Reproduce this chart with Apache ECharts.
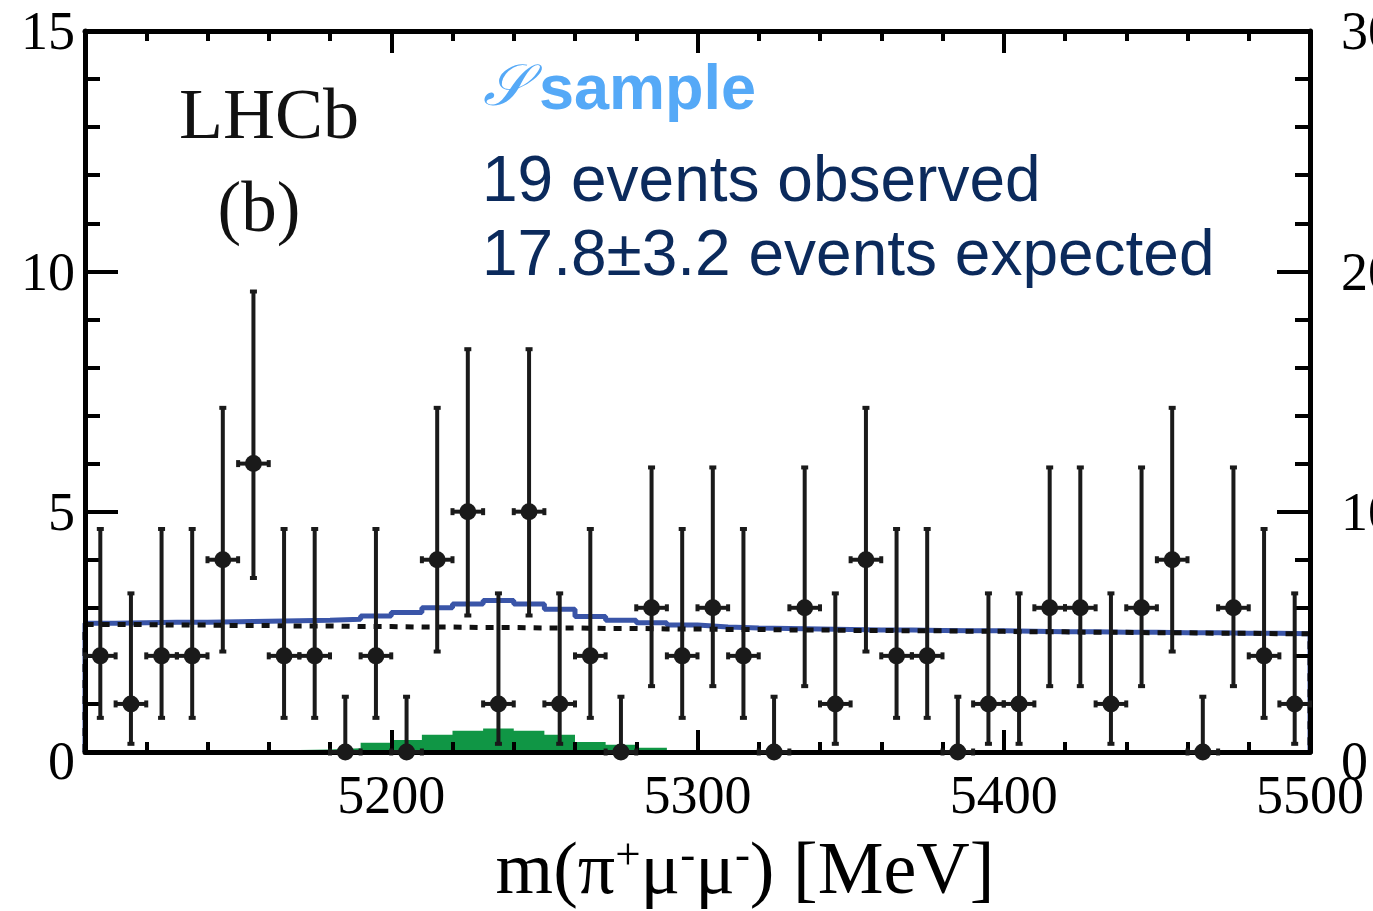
<!DOCTYPE html>
<html><head><meta charset="utf-8">
<script src="https://cdn.jsdelivr.net/npm/echarts@6/dist/echarts.min.js"></script>
<style>html,body{margin:0;padding:0;background:#fff}#c{width:1373px;height:911px}</style>
</head><body><div id="c"></div>
<script>
// ---- data ----
const binLow = [5100,5110,5120,5130,5140,5150,5160,5170,5180,5190,
                5200,5210,5220,5230,5240,5250,5260,5270,5280,5290,
                5300,5310,5320,5330,5340,5350,5360,5370,5380,5390,
                5400,5410,5420,5430,5440,5450,5460,5470,5480,5490];
const binWidth = 10;
const counts = [2,1,2,2,4,6,2,2,0,2, 0,4,5,1,5,1,2,0,3,2,
                3,2,0,3,1,4,2,2,0,1, 1,3,3,1,3,4,0,3,2,1];
// Poisson interval bounds indexed by observed count
const poissonLow  = [0, 0.17, 0.71, 1.37, 2.09, 2.84, 3.62];
const poissonHigh = [1.15, 3.30, 4.64, 5.92, 7.16, 8.38, 9.58];
const totalFit = [2.68,2.69,2.70,2.70,2.71,2.72,2.73,2.74,2.76,2.83,
                  2.90,3.00,3.08,3.15,3.08,2.97,2.82,2.74,2.69,2.64,
                  2.60,2.58,2.57,2.56,2.55,2.54,2.54,2.53,2.52,2.52,
                  2.51,2.50,2.50,2.49,2.49,2.48,2.48,2.47,2.47,2.46];
const background = [2.65,2.65,2.64,2.64,2.63,2.63,2.62,2.62,2.61,2.61,
                    2.60,2.60,2.59,2.59,2.58,2.58,2.57,2.57,2.56,2.56,
                    2.55,2.55,2.54,2.54,2.53,2.53,2.52,2.52,2.51,2.51,
                    2.50,2.50,2.49,2.49,2.48,2.48,2.47,2.47,2.46,2.46];
const signal = [0,0,0,0.01,0.02,0.03,0.04,0.05,0.08,0.19,
                0.25,0.36,0.44,0.49,0.44,0.36,0.21,0.15,0.09,0.04,
                0.02,0.01,0,0,0,0,0,0,0,0,
                0,0,0,0,0,0,0,0,0,0];
const xRange = [5100, 5500], xStep = 100;
const yRange = [0, 15], yStep = 5;
const y2Range = [0, 30], y2Step = 10;

// ---- build ----
function stepData(vals){
  const last = binLow.length - 1;
  const d = [[binLow[0], 0]];
  vals.forEach((v,i)=>d.push([binLow[i], v]));
  d.push([binLow[last] + binWidth, vals[last]]);
  d.push([binLow[last] + binWidth, 0]);
  return d;
}
const points = binLow.map((b,i)=>[b + binWidth/2, counts[i], poissonLow[counts[i]], poissonHigh[counts[i]]]);

const serif = "'Liberation Serif','Times New Roman',serif";
const tickStyle = {color:'#000', width:4};

function xAx(pos, labels){
  return {
    type:'value', position:pos, min:xRange[0], max:xRange[1], interval:xStep, z:3,
    axisLine:{show:true, onZero:false, lineStyle:{color:'#000', width:5}},
    axisTick:{show:true, inside:true, length:22, lineStyle:tickStyle},
    minorTick:{show:true, splitNumber:5, length:10, lineStyle:tickStyle},
    splitLine:{show:false},
    axisLabel:{show:labels, formatter:v=> v===xRange[0] ? '' : String(v), fontFamily:serif, fontSize:54, color:'#000', margin:20},
  };
}
function yAx(pos, rng, step, margin){
  return {
    type:'value', position:pos, min:rng[0], max:rng[1], interval:step, z:3,
    axisLine:{show:true, onZero:false, lineStyle:{color:'#000', width:5}},
    axisTick:{show:true, inside:true, length:33, lineStyle:tickStyle},
    minorTick:{show:true, splitNumber:5, length:15, lineStyle:tickStyle},
    splitLine:{show:false},
    axisLabel:{fontFamily:serif, fontSize:54, color:'#000', margin:margin, padding:[8,0,0,0],
      formatter:v=> v===0 ? '{z|0}' : String(v),
      rich:{z:{fontFamily:serif, fontSize:54, color:'#000', padding:[18,0,0,0]}}},
  };
}

const chart = echarts.init(document.getElementById('c'), null, {renderer:'canvas'});
chart.setOption({
  animation:false,
  backgroundColor:'#fff',
  grid:{left:85, right:63, top:31, bottom:159, containLabel:false, outerBoundsMode:'none'},
  xAxis:[xAx('bottom', true), xAx('top', false)],
  yAxis:[yAx('left', yRange, yStep, 10), yAx('right', y2Range, y2Step, 31)],
  series:[
    {type:'line', name:'signal', data:stepData(signal), step:'end', symbol:'none', z:1,
     lineStyle:{width:0}, areaStyle:{color:'#109645', opacity:1}},
    {type:'line', name:'total', data:stepData(totalFit), step:'end', symbol:'none', z:2,
     lineStyle:{color:'#3a55a8', width:5}},
    {type:'line', name:'background', data:stepData(background), step:'end', symbol:'none', z:2,
     lineStyle:{color:'#111', width:5, type:[8,8]}},
    {type:'custom', name:'data', data:points, z:5, clip:false,
     renderItem:function(params, api){
       const x = api.value(0), n = api.value(1), lo = api.value(2), hi = api.value(3);
       const c = api.coord([x, n]);
       const cl = api.coord([x, lo]), ch = api.coord([x, hi]);
       const l = api.coord([x - binWidth/2, n]), r = api.coord([x + binWidth/2, n]);
       const st = {stroke:'#1a1a1a', lineWidth:4};
       const cap = 3.5;
       const kids = [];
       kids.push({type:'line', shape:{x1:c[0], y1:cl[1], x2:c[0], y2:ch[1]}, style:st});
       kids.push({type:'line', shape:{x1:l[0], y1:c[1], x2:r[0], y2:c[1]}, style:st});
       kids.push({type:'line', shape:{x1:c[0]-cap, y1:ch[1], x2:c[0]+cap, y2:ch[1]}, style:st});
       if (n > 0) kids.push({type:'line', shape:{x1:c[0]-cap, y1:cl[1], x2:c[0]+cap, y2:cl[1]}, style:st});
       kids.push({type:'line', shape:{x1:l[0], y1:c[1]-cap, x2:l[0], y2:c[1]+cap}, style:st});
       kids.push({type:'line', shape:{x1:r[0], y1:c[1]-cap, x2:r[0], y2:c[1]+cap}, style:st});
       kids.push({type:'circle', shape:{cx:c[0], cy:c[1], r:8.5}, style:{fill:'#1a1a1a'}});
       return {type:'group', children:kids};
     }}
  ],
  graphic:[
    {type:'text', x:269, y:119, style:{text:'LHCb', font:"72px 'Liberation Serif'", fill:'#111', align:'center', verticalAlign:'middle'}},
    {type:'text', x:259, y:212, style:{text:'(b)', font:"71px 'Liberation Serif'", fill:'#111', align:'center', verticalAlign:'middle'}},
    {type:'text', x:505, y:90, style:{text:'𝒮', font:"italic 58px 'DejaVu Serif','DejaVu Sans','Noto Sans'", fill:'#55a9f7', align:'center', verticalAlign:'middle'}},
    {type:'text', x:539, y:92, style:{text:'sample', font:"bold 63px 'Liberation Sans'", fill:'#55a9f7', align:'left', verticalAlign:'middle'}},
    {type:'text', x:482, y:183, style:{text:'19 events observed', font:"64px 'Liberation Sans'", fill:'#0b2a5c', align:'left', verticalAlign:'middle'}},
    {type:'text', x:482, y:257, style:{text:'17.8±3.2 events expected', font:"64px 'Liberation Sans'", fill:'#0b2a5c', align:'left', verticalAlign:'middle'}},
    {type:'text', x:745, y:874, style:{
      text:'{a|m(π}{s|+}{a|μ}{s|-}{a|μ}{s|-}{a|) [MeV]}', align:'center', verticalAlign:'middle',
      rich:{
        a:{fontFamily:serif, fontSize:74, fill:'#000', lineHeight:78},
        s:{fontFamily:serif, fontSize:45, fill:'#000', verticalAlign:'top', lineHeight:78}
      }}}
  ]
});
</script>
</body></html>
